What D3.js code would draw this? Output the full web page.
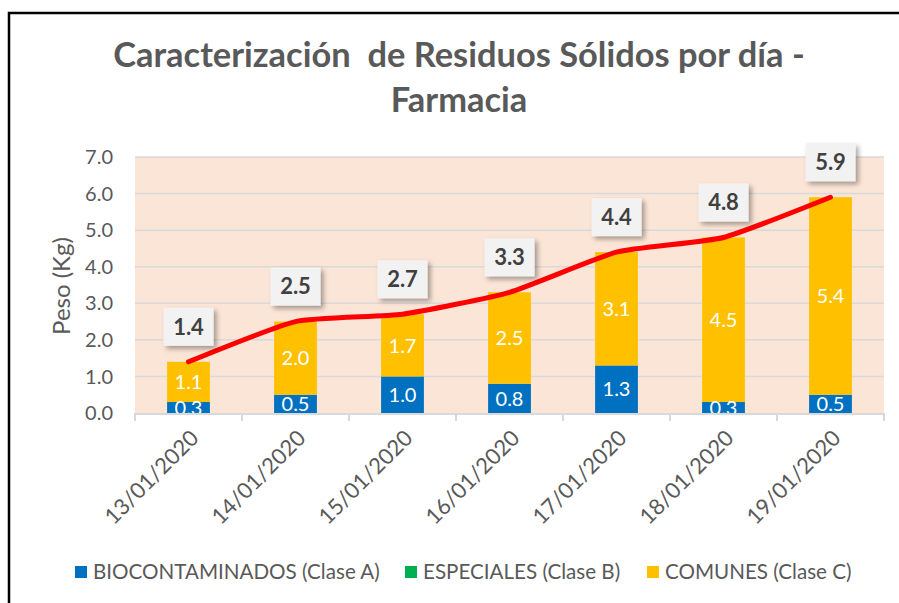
<!doctype html>
<html lang="es">
  <head>
  <meta charset="utf-8" />
  <style>
    body { margin: 0; background: #fff; }
    svg text { font-family: Lato, "Liberation Sans", sans-serif; }
    .tick-label { fill: #595959; font-size: 20px; }
    .seg-label { fill: #fff; font-size: 20px; text-anchor: middle; }
    .total-label { fill: #404040; font-size: 22px; font-weight: bold; text-anchor: middle; }
  </style>
  </head>
  <body>
  <div id="chart"></div>

    <script src="https://d3js.org/d3.v7.min.js"></script>
    <script>
      // datos
      var fechas = ["13/01/2020", "14/01/2020", "15/01/2020", "16/01/2020", "17/01/2020", "18/01/2020", "19/01/2020"];
      var biocontaminados = [0.3, 0.5, 1.0, 0.8, 1.3, 0.3, 0.5];
      var especiales = [0, 0, 0, 0, 0, 0, 0];
      var comunes = [1.1, 2.0, 1.7, 2.5, 3.1, 4.5, 5.4];
      var totales = [1.4, 2.5, 2.7, 3.3, 4.4, 4.8, 5.9];
      var yTicks = [0, 1, 2, 3, 4, 5, 6, 7];
      var series = ["BIOCONTAMINADOS (Clase A)", "ESPECIALES (Clase B)", "COMUNES (Clase C)"];
      var colores = ["#0070C0", "#00B050", "#FFC000"];

      var width = 899,
          height = 603;
      var plot = {left: 135, top: 157, right: 884, bottom: 413};

      var svg = d3.select("#chart").append("svg")
          .attr("width", width)
          .attr("height", height);

      var defs = svg.append("defs");
      defs.append("filter").attr("id", "sombra")
          .attr("x", "-30%").attr("y", "-30%").attr("width", "160%").attr("height", "160%")
        .append("feDropShadow")
          .attr("dx", 3).attr("dy", 3).attr("stdDeviation", 2.5)
          .attr("flood-color", "#000").attr("flood-opacity", 0.35);
      defs.append("clipPath").attr("id", "clip-plot")
        .append("rect")
          .attr("x", plot.left).attr("y", plot.top)
          .attr("width", plot.right - plot.left).attr("height", plot.bottom - plot.top);

      // marco negro (sale por la derecha y abajo)
      svg.append("rect")
          .attr("x", 9).attr("y", 13)
          .attr("width", 1000).attr("height", 700)
          .attr("fill", "none").attr("stroke", "#000").attr("stroke-width", 2.5);

      // titulo
      var title = svg.append("text")
          .attr("text-anchor", "middle")
          .attr("fill", "#595959")
          .attr("font-weight", "bold");
      var t1 = title.append("tspan").attr("x", 459).attr("y", 67)
          .attr("xml:space", "preserve")
          .text("Caracterización  de Residuos Sólidos por día -");
      title.append("tspan").attr("x", 459).attr("y", 112).text("Farmacia");
      title.attr("font-size", 28);
      var w = t1.node().getComputedTextLength();
      title.attr("font-size", 28 * 692 / w);

      var x = d3.scaleBand()
          .domain(fechas)
          .range([plot.left, plot.right])
          .paddingInner(0.6)
          .paddingOuter(0.3);

      var y = d3.scaleLinear()
          .domain([0, 7])
          .range([plot.bottom, plot.top]);

      // fondo del area de trazado
      svg.append("rect")
          .attr("x", plot.left).attr("y", plot.top)
          .attr("width", plot.right - plot.left).attr("height", plot.bottom - plot.top)
          .attr("fill", "#FBE5D6");

      // lineas de cuadricula
      svg.append("g").selectAll("line")
          .data(yTicks.slice(1))
        .enter().append("line")
          .attr("x1", plot.left).attr("x2", plot.right)
          .attr("y1", d => y(d)).attr("y2", d => y(d))
          .attr("stroke", "#D9D9D9").attr("stroke-width", 1.5);

      // eje y
      svg.append("g").selectAll("text")
          .data(yTicks)
        .enter().append("text")
          .attr("class", "tick-label")
          .attr("x", 113)
          .attr("y", d => y(d))
          .attr("dy", "0.36em")
          .attr("text-anchor", "end")
          .text(d => d.toFixed(1));

      svg.append("text")
          .attr("class", "tick-label")
          .attr("transform", "translate(62," + 286 + ") rotate(-90)")
          .attr("text-anchor", "middle")
          .attr("dy", "0.35em")
          .style("font-size", "24px")
          .text("Peso (Kg)");

      // barras apiladas
      var tabla = fechas.map((f, i) => ({fecha: f, a: biocontaminados[i], b: especiales[i], c: comunes[i]}));
      var stack = d3.stack().keys(["a", "b", "c"])(tabla);

      var capas = svg.append("g").selectAll("g")
          .data(stack)
        .enter().append("g")
          .attr("fill", (d, i) => colores[i]);

      capas.selectAll("rect")
          .data(d => d)
        .enter().append("rect")
          .attr("x", d => x(d.data.fecha))
          .attr("width", x.bandwidth())
          .attr("y", d => y(d[1]))
          .attr("height", d => y(d[0]) - y(d[1]));

      // etiquetas de segmentos
      var segLabels = svg.append("g").attr("clip-path", "url(#clip-plot)");
      stack.forEach(function(capa) {
        segLabels.selectAll(null)
            .data(capa.filter(d => d[1] - d[0] > 0))
          .enter().append("text")
            .attr("class", "seg-label")
            .attr("x", d => x(d.data.fecha) + x.bandwidth() / 2)
            .attr("y", d => y((d[0] + d[1]) / 2))
            .attr("dy", "0.36em")
            .text(d => (d[1] - d[0]).toFixed(1));
      });

      // eje x
      var ejeX = svg.append("g");
      ejeX.append("line")
          .attr("x1", plot.left).attr("x2", plot.right)
          .attr("y1", plot.bottom + 1).attr("y2", plot.bottom + 1)
          .attr("stroke", "#D9D9D9").attr("stroke-width", 2);
      var bordes = fechas.map(f => x(f) - x.step() * x.paddingInner() / 2).concat([plot.right]);
      ejeX.selectAll("line.tk")
          .data(bordes)
        .enter().append("line")
          .attr("class", "tk")
          .attr("x1", d => d).attr("x2", d => d)
          .attr("y1", plot.bottom).attr("y2", plot.bottom + 8)
          .attr("stroke", "#D9D9D9").attr("stroke-width", 2);
      ejeX.selectAll("text")
          .data(fechas)
        .enter().append("text")
          .attr("class", "tick-label")
          .attr("text-anchor", "end")
          .attr("transform", d => "translate(" + (x(d) + x.bandwidth() / 2 + 6) + "," + 434 + ") rotate(-45)")
          .attr("dy", "0.35em")
          .style("font-size", "22px")
          .text(d => d);

      // linea de totales
      var cx = d => x(d) + x.bandwidth() / 2;
      var linea = d3.line()
          .x((d, i) => cx(fechas[i]))
          .y(d => y(d))
          .curve(d3.curveCardinal.tension(0.5));
      svg.append("path")
          .attr("d", linea(totales))
          .attr("fill", "none")
          .attr("stroke", "#FF0000")
          .attr("stroke-width", 5)
          .attr("stroke-linecap", "round")
          .attr("stroke-linejoin", "round");

      // etiquetas de totales
      var tot = svg.append("g").selectAll("g")
          .data(totales)
        .enter().append("g")
          .attr("transform", (d, i) => "translate(" + cx(fechas[i]) + "," + (y(d) - 35) + ")");
      tot.append("rect")
          .attr("x", -25).attr("y", -19)
          .attr("width", 50).attr("height", 38)
          .attr("fill", "#F2F2F2")
          .attr("filter", "url(#sombra)");
      tot.append("text")
          .attr("class", "total-label")
          .attr("dy", "0.36em")
          .text(d => d.toFixed(1));

      // leyenda
      var legX = [75, 405, 647];
      var leg = svg.append("g").selectAll("g")
          .data(series)
        .enter().append("g")
          .attr("transform", (d, i) => "translate(" + legX[i] + ",566)");
      leg.append("rect")
          .attr("width", 12).attr("height", 12)
          .attr("fill", (d, i) => colores[i]);
      leg.append("text")
          .attr("class", "tick-label")
          .attr("x", 18).attr("y", 6)
          .attr("dy", "0.36em")
          .style("font-size", "20.6px")
          .text(d => d);
    </script>
  </body>
</html>
